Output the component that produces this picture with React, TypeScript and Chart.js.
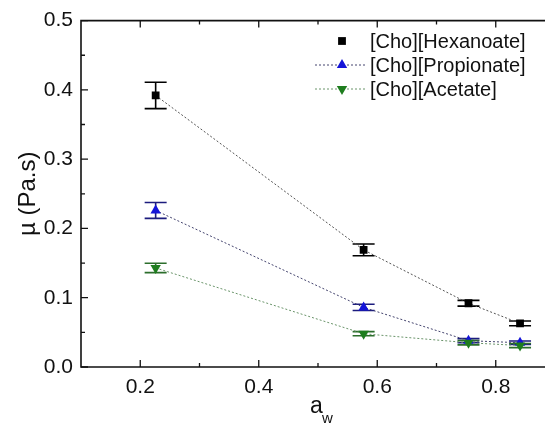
import React, { useEffect, useRef } from "react";
import { Chart, registerables } from "chart.js";

Chart.register(...registerables);

// ---- data ----
const aw = [0.226, 0.577, 0.754, 0.841];
const hexanoate = [0.392, 0.169, 0.092, 0.063];
const hexanoateErr = [0.019, 0.0085, 0.0042, 0.0035];
const propionate = [0.226, 0.086, 0.038, 0.035];
const propionateErr = [0.0115, 0.0045, 0.003, 0.0025];
const acetate = [0.143, 0.048, 0.035, 0.031];
const acetateErr = [0.0068, 0.003, 0.003, 0.003];

const seriesLabels = ["[Cho][Hexanoate]", "[Cho][Propionate]", "[Cho][Acetate]"];
const xTickLabels = [0.2, 0.4, 0.6, 0.8];
const xMinorTicks = [0.3, 0.5, 0.7];
const yTickLabels = [0, 0.1, 0.2, 0.3, 0.4, 0.5];
const yMinorTicks = [0.05, 0.15, 0.25, 0.35, 0.45];

const FONT = "'Liberation Sans', Arial, sans-serif";

const markerColors = ["#000000", "#1414d8", "#1e7d1e"];
const errColors = ["#000000", "#1c1c7e", "#2c6e2c"];
const lineColors = ["#555555", "#44446e", "#6a946a"];
const errs = [hexanoateErr, propionateErr, acetateErr];
const vals = [hexanoate, propionate, acetate];

function drawMarker(ctx: CanvasRenderingContext2D, kind: number, x: number, y: number) {
  ctx.save();
  ctx.fillStyle = markerColors[kind];
  ctx.beginPath();
  if (kind === 0) {
    const s = 3.9;
    ctx.rect(x - s, y - s, 2 * s, 2 * s);
  } else {
    const r = 6;
    const dir = kind === 1 ? 1 : -1;
    ctx.moveTo(x, y - dir * r);
    ctx.lineTo(x + r * 0.866, y + dir * r * 0.5);
    ctx.lineTo(x - r * 0.866, y + dir * r * 0.5);
    ctx.closePath();
  }
  ctx.fill();
  ctx.restore();
}

const customPlugin = {
  id: "customDraw",
  beforeDatasetsDraw(chart: any) {
    const ctx: CanvasRenderingContext2D = chart.ctx;
    const xs = chart.scales.x;
    const ys = chart.scales.y;
    ctx.save();
    ctx.lineWidth = 1.6;
    for (let k = 0; k < 3; k++) {
      ctx.strokeStyle = errColors[k];
      for (let j = 0; j < aw.length; j++) {
        const x = xs.getPixelForValue(aw[j]);
        const yt = ys.getPixelForValue(vals[k][j] + errs[k][j]);
        const yb = ys.getPixelForValue(vals[k][j] - errs[k][j]);
        ctx.beginPath();
        ctx.moveTo(x, yt);
        ctx.lineTo(x, yb);
        ctx.moveTo(x - 11, yt);
        ctx.lineTo(x + 11, yt);
        ctx.moveTo(x - 11, yb);
        ctx.lineTo(x + 11, yb);
        ctx.stroke();
      }
    }
    ctx.restore();
  },
  afterDraw(chart: any) {
    const ctx: CanvasRenderingContext2D = chart.ctx;
    const { left, right, top, bottom } = chart.chartArea;
    const xs = chart.scales.x;
    const ys = chart.scales.y;
    ctx.save();
    // frame (right side lies beyond the visible window)
    ctx.strokeStyle = "#111";
    ctx.lineWidth = 1.6;
    ctx.beginPath();
    ctx.moveTo(right + 5, top);
    ctx.lineTo(left, top);
    ctx.lineTo(left, bottom);
    ctx.lineTo(right + 5, bottom);
    ctx.stroke();
    // ticks
    ctx.lineWidth = 1.3;
    ctx.beginPath();
    const tickX = (v: number, len: number) => {
      const x = xs.getPixelForValue(v);
      ctx.moveTo(x, bottom);
      ctx.lineTo(x, bottom - len);
      ctx.moveTo(x, top);
      ctx.lineTo(x, top + len);
    };
    const tickY = (v: number, len: number) => {
      const y = ys.getPixelForValue(v);
      ctx.moveTo(left, y);
      ctx.lineTo(left + len, y);
    };
    xTickLabels.forEach((v) => tickX(v, 7));
    xMinorTicks.forEach((v) => tickX(v, 4));
    yTickLabels.forEach((v) => tickY(v, 7));
    yMinorTicks.forEach((v) => tickY(v, 4));
    ctx.stroke();

    // x title with subscript
    ctx.fillStyle = "#111";
    ctx.textBaseline = "alphabetic";
    ctx.textAlign = "left";
    ctx.font = `23px ${FONT}`;
    ctx.fillText("a", 310, 413);
    ctx.font = `15px ${FONT}`;
    ctx.fillText("w", 322, 423);

    // legend
    const rowsY = [41, 65, 89];
    const mx = 342;
    for (let k = 0; k < 3; k++) {
      const y = rowsY[k];
      if (k > 0) {
        ctx.save();
        ctx.strokeStyle = lineColors[k];
        ctx.lineWidth = 1;
        ctx.setLineDash([2, 2]);
        ctx.beginPath();
        ctx.moveTo(315, y);
        ctx.lineTo(366, y);
        ctx.stroke();
        ctx.restore();
      }
      drawMarker(ctx, k, mx, y);
      ctx.fillStyle = "#111";
      ctx.font = `20px ${FONT}`;
      ctx.textBaseline = "middle";
      ctx.textAlign = "left";
      ctx.fillText(seriesLabels[k], 370, y + 1);
    }
    ctx.restore();
  },
};

export default function App() {
  const ref = useRef<HTMLCanvasElement | null>(null);
  useEffect(() => {
    if (!ref.current) return;
    const mk = (k: number, style: string, rot: number, r: number) => ({
      label: seriesLabels[k],
      data: aw.map((x, i) => ({ x, y: vals[k][i] })),
      showLine: true,
      borderColor: lineColors[k],
      borderWidth: 1,
      borderDash: [2, 2],
      pointStyle: style,
      pointRotation: rot,
      pointRadius: r,
      pointBackgroundColor: markerColors[k],
      pointBorderColor: markerColors[k],
      pointBorderWidth: 0,
      order: 3 - k,
    });
    const chart = new Chart(ref.current, {
      type: "scatter",
      data: {
        datasets: [mk(0, "rect", 0, 5.5), mk(1, "triangle", 0, 6), mk(2, "triangle", 180, 6)] as any,
      },
      options: {
        responsive: false,
        animation: false,
        layout: { padding: { top: 16, right: 15, left: 0, bottom: 0 } },
        plugins: { legend: { display: false }, tooltip: { enabled: false } },
        scales: {
          x: {
            type: "linear",
            min: 0.1,
            max: 0.9,
            afterBuildTicks: (s: any) => {
              s.ticks = xTickLabels.map((v) => ({ value: v }));
            },
            afterFit: (s: any) => {
              s.height = 58;
            },
            grid: { display: false, drawTicks: false },
            border: { display: false },
            ticks: {
              padding: 8,
              color: "#111",
              font: { family: FONT, size: 21 },
              callback: (v: any) => Number(v).toFixed(1),
            },
          },
          y: {
            type: "linear",
            min: 0,
            max: 0.5,
            afterBuildTicks: (s: any) => {
              s.ticks = yTickLabels.map((v) => ({ value: v }));
            },
            afterFit: (s: any) => {
              s.width = 81;
            },
            grid: { display: false, drawTicks: false },
            border: { display: false },
            ticks: {
              padding: 8,
              color: "#111",
              font: { family: FONT, size: 21 },
              callback: (v: any) => Number(v).toFixed(1),
            },
            title: {
              display: true,
              text: "µ (Pa.s)",
              color: "#111",
              font: { family: FONT, size: 24 },
              padding: { top: 14, bottom: 0 },
            },
          },
        },
      } as any,
      plugins: [customPlugin],
    });
    return () => chart.destroy();
  }, []);
  return (
    <div
      style={{
        position: "fixed",
        left: 0,
        top: 0,
        width: 545,
        height: 425,
        overflow: "hidden",
        background: "#fff",
      }}
    >
      <canvas ref={ref} width={570} height={425} style={{ display: "block" }} />
    </div>
  );
}
